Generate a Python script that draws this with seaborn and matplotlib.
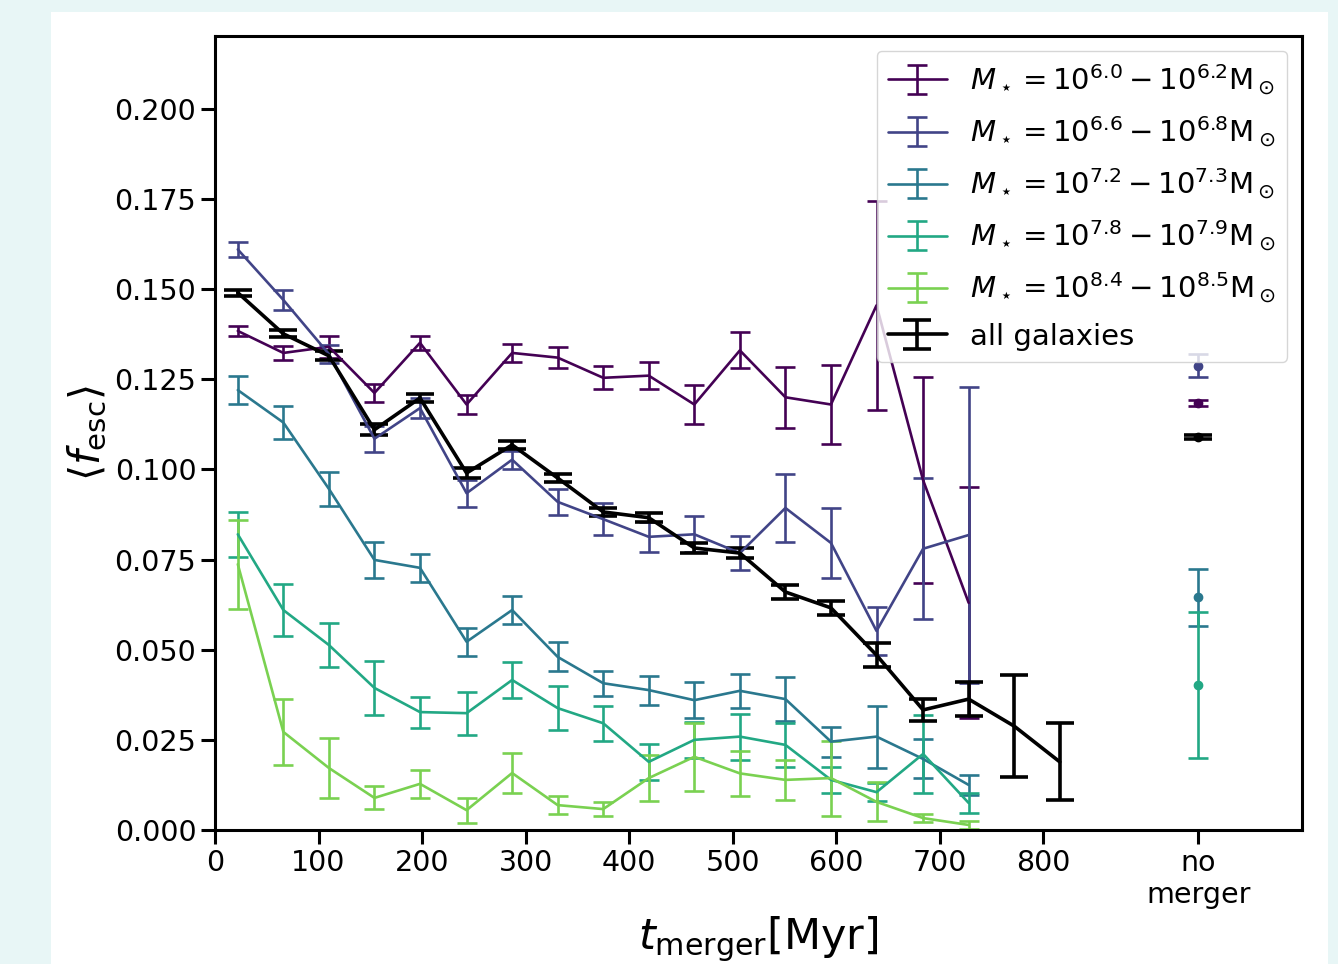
import numpy as np
import seaborn as sns
import matplotlib.pyplot as plt
from matplotlib.patches import Rectangle

# ------------------------------
# data
# ------------------------------
t_bins = [22, 66, 110, 154, 198, 243, 287, 331, 375, 419, 463, 507, 551, 595, 639, 684, 728, 772, 816]
x_nomerger = 950

labels = [r"$M_\star = 10^{6.0} - 10^{6.2}\mathrm{M}_\odot$",
          r"$M_\star = 10^{6.6} - 10^{6.8}\mathrm{M}_\odot$",
          r"$M_\star = 10^{7.2} - 10^{7.3}\mathrm{M}_\odot$",
          r"$M_\star = 10^{7.8} - 10^{7.9}\mathrm{M}_\odot$",
          r"$M_\star = 10^{8.4} - 10^{8.5}\mathrm{M}_\odot$"]

m60_y = [0.1384, 0.1323, 0.1340, 0.1212, 0.1351, 0.1180, 0.1323, 0.1310, 0.1254, 0.1260, 0.1180, 0.1330, 0.1200, 0.1180, 0.1455, 0.0970, 0.0630]
m60_e = [0.0014, 0.0020, 0.0030, 0.0025, 0.0020, 0.0025, 0.0025, 0.0030, 0.0032, 0.0038, 0.0053, 0.0050, 0.0085, 0.0110, 0.0290, 0.0285, 0.0320]

m66_y = [0.1610, 0.1470, 0.1320, 0.1085, 0.1170, 0.0934, 0.1027, 0.0910, 0.0862, 0.0813, 0.0820, 0.0768, 0.0893, 0.0796, 0.0552, 0.0780, 0.0818]
m66_e = [0.0020, 0.0027, 0.0025, 0.0036, 0.0028, 0.0037, 0.0025, 0.0037, 0.0045, 0.0042, 0.0050, 0.0047, 0.0093, 0.0096, 0.0067, 0.0195, 0.0410]

m72_y = [0.1220, 0.1130, 0.0946, 0.0749, 0.0727, 0.0522, 0.0610, 0.0480, 0.0407, 0.0388, 0.0360, 0.0386, 0.0363, 0.0245, 0.0259, 0.0197, 0.0125]
m72_e = [0.0039, 0.0046, 0.0047, 0.0049, 0.0039, 0.0039, 0.0038, 0.0040, 0.0035, 0.0040, 0.0050, 0.0047, 0.0062, 0.0042, 0.0086, 0.0054, 0.0027]

m78_y = [0.0820, 0.0610, 0.0513, 0.0394, 0.0327, 0.0324, 0.0416, 0.0338, 0.0296, 0.0189, 0.0250, 0.0259, 0.0236, 0.0139, 0.0105, 0.0211, 0.0075]
m78_e = [0.0062, 0.0072, 0.0061, 0.0075, 0.0043, 0.0060, 0.0050, 0.0060, 0.0048, 0.0050, 0.0050, 0.0064, 0.0060, 0.0037, 0.0025, 0.0108, 0.0028]

m84_y = [0.0737, 0.0272, 0.0172, 0.0089, 0.0128, 0.0055, 0.0158, 0.0069, 0.0058, 0.0144, 0.0203, 0.0157, 0.0139, 0.0144, 0.0078, 0.0033, 0.0014]
m84_e = [0.0124, 0.0092, 0.0084, 0.0032, 0.0038, 0.0035, 0.0056, 0.0024, 0.0020, 0.0063, 0.0094, 0.0062, 0.0055, 0.0104, 0.0054, 0.0010, 0.0010]

all_y = [0.1490, 0.1376, 0.1315, 0.1110, 0.1198, 0.0990, 0.1068, 0.0976, 0.0882, 0.0866, 0.0782, 0.0768, 0.0660, 0.0616, 0.0485, 0.0333, 0.0363, 0.0288, 0.0189]
all_e = [0.0008, 0.0010, 0.0012, 0.0015, 0.0010, 0.0015, 0.0012, 0.0012, 0.0012, 0.0012, 0.0015, 0.0015, 0.0020, 0.0020, 0.0033, 0.0030, 0.0047, 0.0142, 0.0107]

# "no merger" values per mass bin (nan = not shown)
nomerger_y = [0.1184, 0.1287, 0.0646, 0.0402, np.nan]
nomerger_e = [0.0008, 0.0032, 0.0079, 0.0203, np.nan]
nomerger_all_y = 0.1090
nomerger_all_e = 0.0005

series_y = [m60_y, m66_y, m72_y, m78_y, m84_y]
series_e = [m60_e, m66_e, m72_e, m78_e, m84_e]

# ------------------------------
# style
# ------------------------------
sns.set_theme(style="ticks")
plt.rcParams["axes.edgecolor"] = "black"
plt.rcParams["xtick.color"] = "black"
plt.rcParams["ytick.color"] = "black"
plt.rcParams["text.color"] = "black"
plt.rcParams["axes.labelcolor"] = "black"

cmap = sns.color_palette("viridis", as_cmap=True)
colors = [cmap(f) for f in [0.0, 0.2, 0.4, 0.6, 0.8]]

fig = plt.figure(figsize=(13.38, 9.64), dpi=100, facecolor="#e8f6f6")
fig.patches.append(Rectangle((51 / 1338, 0), (1328 - 51) / 1338, (964 - 12) / 964,
                             transform=fig.transFigure, facecolor="white",
                             edgecolor="none", zorder=-10))
ax = fig.add_axes([0.1607, 0.139, 0.8124, 0.8237])

# ------------------------------
# mass bins
# ------------------------------
for yv, ev, c, lab in zip(series_y, series_e, colors, labels):
    n = len(yv)
    ax.errorbar(t_bins[:n], yv, yerr=ev, color=c, lw=1.9, elinewidth=1.9,
                capsize=7, capthick=1.9, label=lab)

for yv, ev, c in zip(nomerger_y, nomerger_e, colors):
    if np.isnan(yv):
        continue
    ax.errorbar([x_nomerger], [yv], yerr=[ev], color=c, fmt="o", ms=6,
                elinewidth=1.9, capsize=7, capthick=1.9)

# all galaxies
ax.errorbar(t_bins, all_y, yerr=all_e, color="black", lw=2.6, elinewidth=2.6,
            capsize=10, capthick=2.6, label="all galaxies")
ax.errorbar([x_nomerger], [nomerger_all_y], yerr=[nomerger_all_e], color="black",
            fmt="o", ms=6, elinewidth=2.6, capsize=10, capthick=2.6)

# ------------------------------
# axes
# ------------------------------
ax.set_xlim(0, 1050)
ax.set_ylim(0, 0.2202)
ax.set_xticks([0, 100, 200, 300, 400, 500, 600, 700, 800, x_nomerger])
ax.set_xticklabels(["0", "100", "200", "300", "400", "500", "600", "700", "800", "no\nmerger"])
ax.set_yticks([0.0, 0.025, 0.05, 0.075, 0.1, 0.125, 0.15, 0.175, 0.2])
ax.set_yticklabels(["0.000", "0.025", "0.050", "0.075", "0.100", "0.125", "0.150", "0.175", "0.200"])
ax.tick_params(labelsize=20.5, length=10, width=2.2)
for s in ax.spines.values():
    s.set_linewidth(2.2)

ax.set_xlabel(r"$t_{\rm merger}$[Myr]", fontsize=31, labelpad=4)
ax.set_ylabel(r"$\langle f_{\rm esc}\rangle$", fontsize=30, labelpad=4)

ax.legend(loc="upper right", fontsize=21, frameon=True, labelspacing=0.6)

fig.savefig("out.png", dpi=100, facecolor=fig.get_facecolor())
